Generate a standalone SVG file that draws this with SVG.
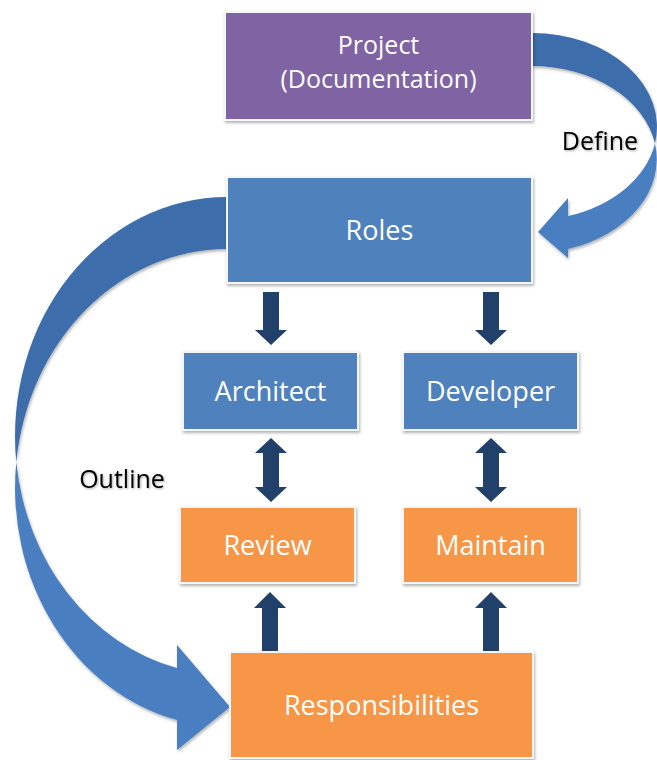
<svg xmlns="http://www.w3.org/2000/svg" width="657" height="760" viewBox="0 0 657 760">
<defs>
<filter id="sh" x="-10%" y="-10%" width="120%" height="130%">
<feDropShadow dx="1" dy="2" stdDeviation="1.5" flood-color="#000" flood-opacity="0.3"/>
</filter>
<filter id="tsh" x="-10%" y="-10%" width="120%" height="130%">
<feDropShadow dx="1" dy="1" stdDeviation="1" flood-color="#000" flood-opacity="0.35"/>
</filter>
<path id="down" d="M -8,0 H 8 V 38 H 16 L 0,53 L -16,38 H -8 Z"/>
<path id="dbl" d="M 0,0 L 16,15 H 8 V 49 H 16 L 0,64 L -16,49 H -8 V 15 H -16 Z"/>
<path id="up" d="M 0,0 L 16,16 H 8 V 60 H -8 V 16 H -16 Z"/>
</defs>
<style>
.box{stroke:#f4f6fa;stroke-width:2;filter:url(#sh)}
.purple{fill:#8064A2}
.blue{fill:#4F81BD}
.orange{fill:#F79646}
.t{font-family:"Open Sans","Noto Sans",sans-serif;font-size:27px;fill:#ffffff;text-anchor:middle}
.tp{font-size:25px}
.lbl{font-family:"Open Sans","Noto Sans",sans-serif;font-size:25px;fill:#000000;text-anchor:middle;filter:url(#tsh)}
.sa{fill:#21406A}
.back{fill:#3D6DAA}
.front{fill:#4A7EC0}
</style>
<rect width="657" height="760" fill="#ffffff"/>
<g id="connectors">
<g id="define-arrow" filter="url(#sh)">
<path class="back" d="M 532,33 A 125 94 0 0 1 655,143.5 A 125 94 0 0 0 532,66 Z"/>
<path class="front" d="M 655,143.5 A 125 94 0 0 1 568,249 L 568,258 L 538,232 L 568,198 L 568,216 A 125 94 0 0 0 655,143.5 Z"/>
</g>
<g id="outline-arrow" filter="url(#sh)">
<path class="back" d="M 227,197 A 212 239 0 0 0 16.3,462 A 212 239 0 0 1 227,249 Z"/>
<path class="front" d="M 16.3,462 A 212 239 0 0 0 177,720 L 177,750 L 230,707 L 177,645 L 177,668 A 212 239 0 0 1 16.3,462 Z"/>
</g>
<use href="#down" class="sa" x="271" y="292"/>
<use href="#down" class="sa" x="491" y="292"/>
<use href="#dbl" class="sa" x="271" y="438"/>
<use href="#dbl" class="sa" x="491" y="438"/>
<use href="#up" class="sa" x="270" y="592"/>
<use href="#up" class="sa" x="491" y="592"/>
</g>
<g id="project">
<rect class="box purple" x="225" y="12" width="307" height="108"/>
<text class="t tp" x="378.5" y="54">Project</text>
<text class="t tp" x="378.5" y="88">(Documentation)</text>
</g>
<g id="roles">
<rect class="box blue" x="227" y="177" width="305" height="106"/>
<text class="t" x="379.5" y="240">Roles</text>
</g>
<g id="architect">
<rect class="box blue" x="183" y="352" width="175" height="78"/>
<text class="t" x="270.5" y="401">Architect</text>
</g>
<g id="developer">
<rect class="box blue" x="403" y="352" width="175" height="78"/>
<text class="t" x="490.5" y="401">Developer</text>
</g>
<g id="review">
<rect class="box orange" x="180" y="507" width="175" height="76"/>
<text class="t" x="267.5" y="555">Review</text>
</g>
<g id="maintain">
<rect class="box orange" x="403" y="507" width="175" height="76"/>
<text class="t" x="490.5" y="555">Maintain</text>
</g>
<g id="responsibilities">
<rect class="box orange" x="230" y="652" width="303" height="106"/>
<text class="t" x="381.5" y="715">Responsibilities</text>
</g>
<g id="labels">
<text class="lbl" x="600" y="150">Define</text>
<text class="lbl" x="122" y="488">Outline</text>
</g>
</svg>
